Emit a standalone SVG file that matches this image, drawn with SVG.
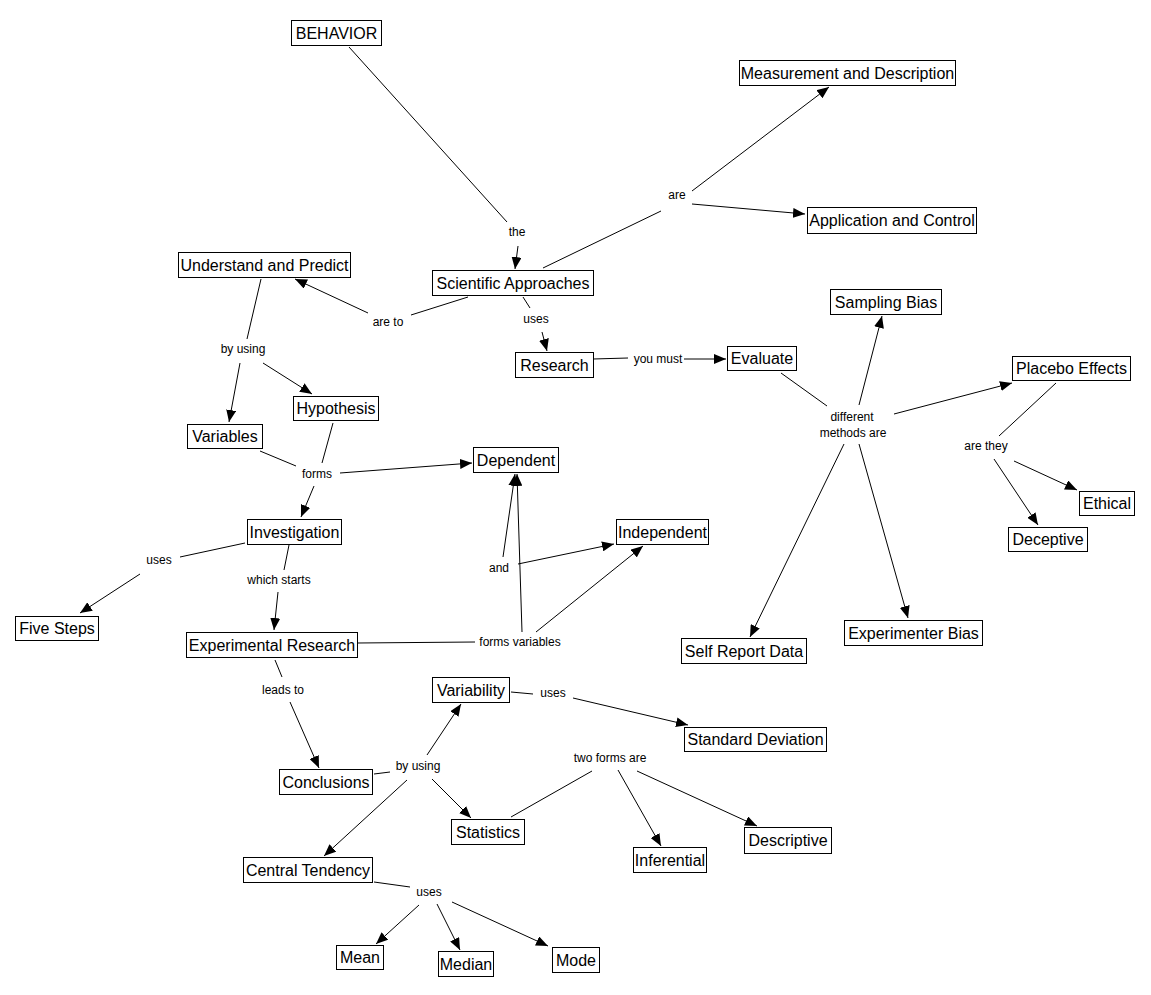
<svg xmlns="http://www.w3.org/2000/svg" width="1151" height="995" viewBox="0 0 1151 995">
<style>
.n rect{fill:#fff;stroke:#000;stroke-width:1}
.n text{font-family:"Liberation Sans",Arial,sans-serif;font-size:16px;fill:#000;text-anchor:middle}
.lbl{font-family:"Liberation Sans",Arial,sans-serif;font-size:12px;fill:#000;text-anchor:middle}
#connectors line{stroke:#000;stroke-width:1;fill:none}
#connectors line.a{marker-end:url(#ah)}
</style>
<defs>
<marker id="ah" markerUnits="userSpaceOnUse" markerWidth="12" markerHeight="10" refX="12" refY="5" orient="auto" viewBox="0 0 12 10">
<path d="M0,0 L12,5 L0,10 z" fill="#000"/>
</marker>
</defs>
<rect x="0" y="0" width="1151" height="995" fill="#fff"/>
<g id="connectors">
<line x1="349" y1="47" x2="507" y2="222"/>
<line class="a" x1="518" y1="246" x2="515" y2="269"/>
<line x1="468" y1="297" x2="411" y2="315"/>
<line class="a" x1="368" y1="313" x2="295" y2="279"/>
<line x1="543" y1="268" x2="661" y2="211"/>
<line class="a" x1="692" y1="191" x2="829" y2="87"/>
<line class="a" x1="692" y1="204" x2="805" y2="214"/>
<line x1="523" y1="297" x2="530" y2="308"/>
<line class="a" x1="542" y1="332" x2="547" y2="351"/>
<line x1="593" y1="359" x2="628" y2="358"/>
<line class="a" x1="684" y1="359" x2="726" y2="359"/>
<line x1="781" y1="373" x2="827" y2="406"/>
<line class="a" x1="859" y1="405" x2="882" y2="316"/>
<line class="a" x1="894" y1="414" x2="1012" y2="383"/>
<line class="a" x1="844" y1="444" x2="750" y2="637"/>
<line class="a" x1="859" y1="444" x2="908" y2="618"/>
<line x1="1056" y1="383" x2="999" y2="436"/>
<line class="a" x1="1014" y1="461" x2="1077" y2="490"/>
<line class="a" x1="994" y1="459" x2="1038" y2="525"/>
<line x1="261" y1="279" x2="247" y2="339"/>
<line class="a" x1="240" y1="363" x2="229" y2="422"/>
<line class="a" x1="263" y1="363" x2="312" y2="394"/>
<line x1="260" y1="451" x2="296" y2="466"/>
<line x1="333" y1="423" x2="322" y2="463"/>
<line class="a" x1="340" y1="473" x2="472" y2="463"/>
<line class="a" x1="314" y1="486" x2="301" y2="517"/>
<line x1="245" y1="543" x2="180" y2="557"/>
<line class="a" x1="140" y1="574" x2="80" y2="613"/>
<line x1="289" y1="545" x2="284" y2="570"/>
<line class="a" x1="278" y1="592" x2="274" y2="630"/>
<line x1="357" y1="643" x2="475" y2="642"/>
<line class="a" x1="522" y1="632" x2="517" y2="474"/>
<line class="a" x1="536" y1="632" x2="643" y2="546"/>
<line class="a" x1="503" y1="557" x2="515" y2="474"/>
<line class="a" x1="518" y1="564" x2="614" y2="544"/>
<line x1="275" y1="660" x2="282" y2="677"/>
<line class="a" x1="290" y1="702" x2="319" y2="768"/>
<line x1="374" y1="774" x2="390" y2="772"/>
<line class="a" x1="427" y1="755" x2="461" y2="704"/>
<line class="a" x1="432" y1="779" x2="471" y2="818"/>
<line class="a" x1="407" y1="780" x2="324" y2="856"/>
<line x1="511" y1="692" x2="533" y2="694"/>
<line class="a" x1="573" y1="698" x2="688" y2="725"/>
<line x1="511" y1="817" x2="592" y2="771"/>
<line class="a" x1="618" y1="770" x2="661" y2="846"/>
<line class="a" x1="637" y1="771" x2="757" y2="826"/>
<line x1="374" y1="882" x2="410" y2="887"/>
<line class="a" x1="419" y1="905" x2="376" y2="944"/>
<line class="a" x1="437" y1="904" x2="460" y2="950"/>
<line class="a" x1="452" y1="902" x2="548" y2="946"/>
</g>
<g id="labels">
<text class="lbl" x="517" y="236">the</text>
<text class="lbl" x="388" y="326">are to</text>
<text class="lbl" x="677" y="199">are</text>
<text class="lbl" x="536" y="323">uses</text>
<text class="lbl" x="658" y="363">you must</text>
<text class="lbl" x="852" y="421">different</text>
<text class="lbl" x="853" y="437">methods are</text>
<text class="lbl" x="986" y="450">are they</text>
<text class="lbl" x="243" y="353">by using</text>
<text class="lbl" x="317" y="478">forms</text>
<text class="lbl" x="159" y="564">uses</text>
<text class="lbl" x="279" y="584">which starts</text>
<text class="lbl" x="520" y="646">forms variables</text>
<text class="lbl" x="499" y="572">and</text>
<text class="lbl" x="283" y="694">leads to</text>
<text class="lbl" x="418" y="770">by using</text>
<text class="lbl" x="553" y="697">uses</text>
<text class="lbl" x="610" y="762">two forms are</text>
<text class="lbl" x="429" y="896">uses</text>
</g>
<g id="n1" class="n"><rect x="291.5" y="20.5" width="90" height="25"/><text x="336.5" y="39">BEHAVIOR</text></g>
<g id="n2" class="n"><rect x="432.5" y="270.5" width="161" height="25"/><text x="513" y="289">Scientific Approaches</text></g>
<g id="n3" class="n"><rect x="178.5" y="252.5" width="172" height="25"/><text x="264.5" y="271">Understand and Predict</text></g>
<g id="n4" class="n"><rect x="739.5" y="60.5" width="216" height="25"/><text x="847.5" y="79">Measurement and Description</text></g>
<g id="n5" class="n"><rect x="807.5" y="207.5" width="169" height="26"/><text x="892" y="226">Application and Control</text></g>
<g id="n6" class="n"><rect x="515.5" y="352.5" width="78" height="25"/><text x="554.5" y="371">Research</text></g>
<g id="n7" class="n"><rect x="727.5" y="346.5" width="69" height="24"/><text x="762" y="364">Evaluate</text></g>
<g id="n8" class="n"><rect x="830.5" y="289.5" width="111" height="25"/><text x="886" y="308">Sampling Bias</text></g>
<g id="n9" class="n"><rect x="1012.5" y="356.5" width="118" height="24"/><text x="1071.5" y="374">Placebo Effects</text></g>
<g id="n10" class="n"><rect x="1079.5" y="491.5" width="55" height="24"/><text x="1107" y="509">Ethical</text></g>
<g id="n11" class="n"><rect x="1008.5" y="527.5" width="79" height="24"/><text x="1048" y="545">Deceptive</text></g>
<g id="n12" class="n"><rect x="681.5" y="638.5" width="125" height="25"/><text x="744" y="657">Self Report Data</text></g>
<g id="n13" class="n"><rect x="844.5" y="620.5" width="138" height="25"/><text x="913.5" y="639">Experimenter Bias</text></g>
<g id="n14" class="n"><rect x="293.5" y="396.5" width="85" height="24"/><text x="336" y="414">Hypothesis</text></g>
<g id="n15" class="n"><rect x="187.5" y="424.5" width="75" height="24"/><text x="225" y="442">Variables</text></g>
<g id="n16" class="n"><rect x="473.5" y="447.5" width="85" height="25"/><text x="516" y="466">Dependent</text></g>
<g id="n17" class="n"><rect x="247.5" y="519.5" width="94" height="25"/><text x="294.5" y="538">Investigation</text></g>
<g id="n18" class="n"><rect x="616.5" y="519.5" width="92" height="25"/><text x="662.5" y="538">Independent</text></g>
<g id="n19" class="n"><rect x="15.5" y="616.5" width="83" height="24"/><text x="57" y="634">Five Steps</text></g>
<g id="n20" class="n"><rect x="186.5" y="632.5" width="171" height="25"/><text x="272" y="651">Experimental Research</text></g>
<g id="n21" class="n"><rect x="279.5" y="769.5" width="93" height="25"/><text x="326" y="788">Conclusions</text></g>
<g id="n22" class="n"><rect x="432.5" y="677.5" width="77" height="25"/><text x="471" y="696">Variability</text></g>
<g id="n23" class="n"><rect x="451.5" y="819.5" width="73" height="25"/><text x="488" y="838">Statistics</text></g>
<g id="n24" class="n"><rect x="243.5" y="857.5" width="129" height="25"/><text x="308" y="876">Central Tendency</text></g>
<g id="n25" class="n"><rect x="684.5" y="727.5" width="142" height="24"/><text x="755.5" y="745">Standard Deviation</text></g>
<g id="n26" class="n"><rect x="633.5" y="847.5" width="73" height="25"/><text x="670" y="866">Inferential</text></g>
<g id="n27" class="n"><rect x="744.5" y="827.5" width="87" height="26"/><text x="788" y="846">Descriptive</text></g>
<g id="n28" class="n"><rect x="336.5" y="945.5" width="47" height="24"/><text x="360" y="963">Mean</text></g>
<g id="n29" class="n"><rect x="438.5" y="951.5" width="55" height="25"/><text x="466" y="970">Median</text></g>
<g id="n30" class="n"><rect x="552.5" y="947.5" width="47" height="25"/><text x="576" y="966">Mode</text></g>
</svg>
